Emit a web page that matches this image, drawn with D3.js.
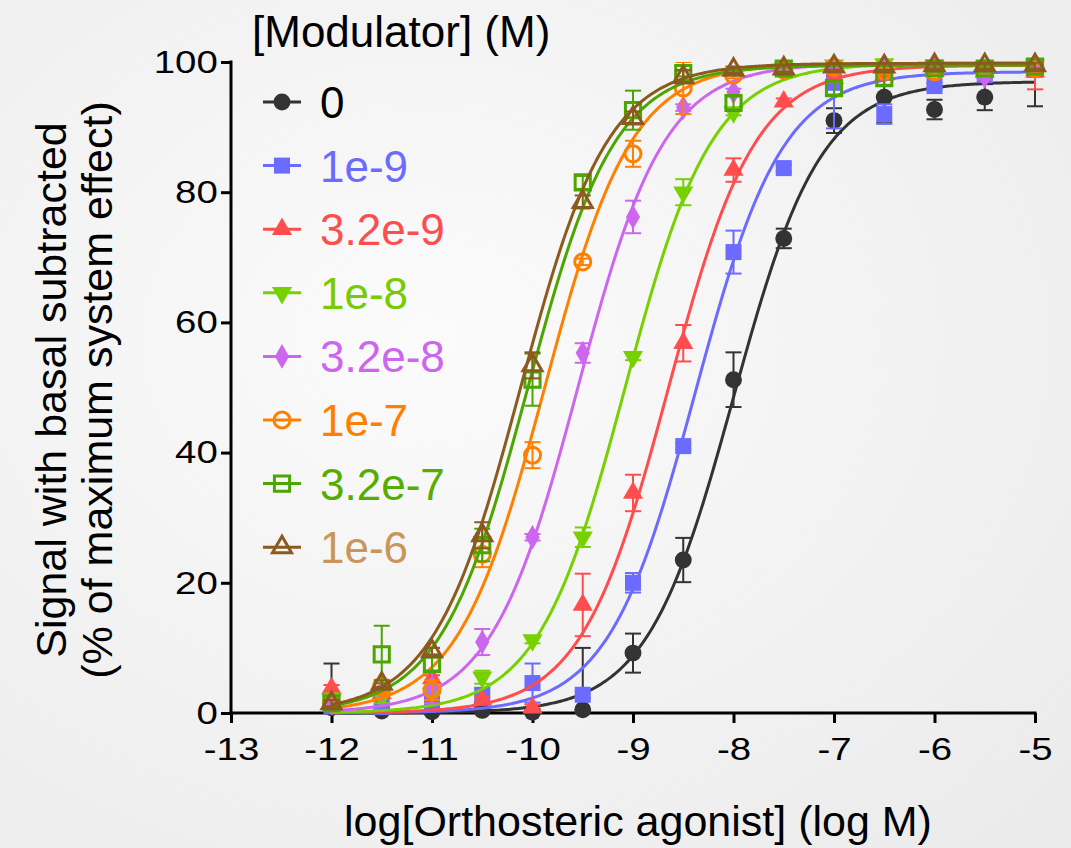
<!DOCTYPE html>
<html><head><meta charset="utf-8">
<script src="https://cdn.jsdelivr.net/npm/d3@7"></script>
<style>
html,body{margin:0;padding:0;overflow:hidden;}
svg{display:block;font-family:"Liberation Sans",Arial,sans-serif;}
</style></head>
<body>
<svg id="chart" width="1071" height="848"></svg>
<script>
// ---------- data ----------
const logAgonist = [-12,-11.5,-11,-10.5,-10,-9.5,-9,-8.5,-8,-7.5,-7,-6.5,-6,-5.5,-5];
const seriesNames = ["0","1e-9","3.2e-9","1e-8","3.2e-8","1e-7","3.2e-7","1e-6"];
const s0 = [0.8,0.3,0.2,0.4,0.1,0.5,9.2,23.5,51.2,72.9,91.0,94.6,92.7,94.6,99.2];
const s1 = [1.0,0.9,1.4,2.8,4.6,2.8,20.0,41.0,70.8,83.7,96.8,92.0,96.3,98.0,98.8];
const s2 = [3.8,3.0,5.3,2.0,0.8,16.6,33.8,56.8,83.4,93.9,97.5,98.0,98.6,98.5,98.5];
const s3 = [2.0,2.5,3.0,5.5,11.2,27.0,54.7,80.0,92.3,99.0,99.5,99.7,99.5,99.2,99.5];
const s4 = [1.5,3.5,4.0,10.9,27.0,55.3,76.2,93.0,95.4,99.0,99.3,99.5,99.5,97.8,99.5];
const s5 = [1.5,4.1,3.5,24.4,39.6,69.3,85.9,96.0,98.0,98.8,99.2,98.6,98.5,99.0,99.0];
const s6 = [1.5,9.0,7.5,25.8,51.2,81.5,92.6,98.3,93.7,99.0,96.0,97.5,99.0,99.0,99.3];
const s7 = [1.5,4.5,9.5,27.3,53.4,78.5,91.4,97.7,98.8,99.0,99.3,99.3,99.5,99.5,99.5];
const e0 = [6.8,0.5,0.5,0.5,0.5,9.5,3.0,3.4,4.2,1.5,1.9,4.0,1.5,2.0,6.0];
const e1 = [0.5,0.5,0.5,1.0,3.0,0.5,1.5,0.5,3.3,0.5,7.0,1.5,0.5,0.5,0.5];
const e2 = [0.5,0.5,0.5,0.5,0.5,4.8,2.8,2.8,1.8,0.5,0.5,0.5,0.5,0.5,2.7];
const e3 = [1.0,1.0,1.0,1.0,0.5,1.5,0.5,2.0,0.5,0.5,0.5,0.5,0.5,0.5,0.5];
const e4 = [0.5,0.5,2.5,2.0,0.5,1.5,2.5,0.5,0.5,0.5,0.5,0.5,0.5,0.5,0.5];
const e5 = [1.0,1.0,1.5,2.0,2.0,0.5,2.0,4.0,0.5,0.5,0.5,0.5,0.5,0.5,0.5];
const e6 = [0.5,4.4,1.0,2.5,4.0,1.0,3.0,0.5,1.0,0.5,1.0,1.0,0.5,0.5,0.5];
const e7 = [0.5,0.5,0.5,2.0,2.0,1.0,1.0,1.0,0.5,0.5,0.5,0.5,0.5,0.5,0.5];
// fitted curve parameters (Hill slope 1, bottom 0)
const fitLogEC50 = [-8.0,-8.38,-8.65,-9.08,-9.55,-9.88,-10.05,-10.12];
const fitTop = [97,98.5,99.5,99.8,99.8,99.8,99.5,99.8];
const xTicks = [-13,-12,-11,-10,-9,-8,-7,-6,-5];
const yTicks = [0,20,40,60,80,100];

const values = [s0,s1,s2,s3,s4,s5,s6,s7];
const errors = [e0,e1,e2,e3,e4,e5,e6,e7];

// ---------- styles ----------
const lineColors = ["#333333","#6b6bff","#ff4d4d","#77d100","#cc66ee","#ff8000","#4ca600","#8b5a1e"];
const textColors = ["#000000","#6b6bff","#ff4d4d","#77cc00","#cc66ee","#ff8000","#55ad00","#c8965a"];
const shapes = ["circle","square","triUp","triDown","diamond","circle","square","triUp"];
const filled = [true,true,true,true,true,false,false,false];

const svg = d3.select("#chart");
const W = 1071, H = 848;
const defs = svg.append("defs");
const rg = defs.append("radialGradient").attr("id","bg").attr("cx","40%").attr("cy","40%").attr("r","80%");
rg.append("stop").attr("offset","0%").attr("stop-color","#fbfbfb");
rg.append("stop").attr("offset","100%").attr("stop-color","#ebebeb");
svg.append("rect").attr("width",W).attr("height",H).attr("fill","url(#bg)");

const x = d3.scaleLinear().domain([-13,-5]).range([231,1035]);
const y = d3.scaleLinear().domain([0,100]).range([713,62]);

defs.append("clipPath").attr("id","plotclip").append("rect")
  .attr("x",x(-13)).attr("y",y(100)).attr("width",x(-5)-x(-13)+20).attr("height",y(0)-y(100));

function symPath(shape, filledFlag){
  const s = filledFlag ? 1 : 0.9;
  switch(shape){
    case "circle": return d3.symbol(d3.symbolCircle, 225*s)();
    case "square": return d3.symbol(d3.symbolSquare, 256*s)();
    case "triUp": return d3.symbol(d3.symbolTriangle, 175*s)();
    case "triDown": return d3.symbol(d3.symbolTriangle, 175*s)();
    case "diamond": return d3.symbol(d3.symbolDiamond, 175*s)();
  }
}
function symTransform(shape){ return shape==="triDown" ? " rotate(180)" : ""; }

// ---------- axes ----------
const yAxis = svg.append("g").attr("transform","translate(231,0)")
  .call(d3.axisLeft(y).tickValues(yTicks).tickSize(10).tickSizeOuter(0).tickPadding(3));
const xAxis = svg.append("g").attr("transform","translate(0,713)")
  .call(d3.axisBottom(x).tickValues(xTicks).tickSize(10).tickSizeOuter(0).tickPadding(14).tickFormat(d3.format("d")));
[yAxis,xAxis].forEach(a=>{
  a.select(".domain").attr("stroke","#000").attr("stroke-width",3);
  a.selectAll(".tick line").attr("stroke","#000").attr("stroke-width",3);
  a.selectAll(".tick text").attr("fill","#000").attr("font-size",32).attr("font-family","Liberation Sans, Arial, sans-serif");
});
xAxis.selectAll(".tick text").text(d=>d<0 ? "-"+Math.abs(d) : d)
  .attr("transform","scale(1.2,1)").attr("dy","0.71em");
yAxis.selectAll(".tick text").attr("x",-11).attr("transform","scale(1.2,1)");
xAxis.select(".domain").attr("d",`M${x(-13)-1.5},0H${x(-5)+1.5}`);
yAxis.select(".domain").attr("d",`M0,${y(0)+1.5}V${y(100)-1.5}`);

// ---------- curves, error bars, points ----------
const curveX = d3.range(-12, -5 + 0.0001, 0.02);
const line = d3.line().x(d=>x(d[0])).y(d=>y(d[1]));
values.forEach((vals, i)=>{
  const g = svg.append("g");
  const pts = curveX.map(lx=>[lx, fitTop[i]/(1+Math.pow(10, fitLogEC50[i]-lx))]);
  g.append("path").attr("d", line(pts)).attr("fill","none")
    .attr("stroke", lineColors[i]).attr("stroke-width", 3);
  const data = logAgonist.map((lx,k)=>({lx, v: vals[k], e: errors[i][k]}));
  const eg = g.append("g").attr("clip-path","url(#plotclip)");
  const eb = eg.selectAll(".eb").data(data).enter().append("g").attr("class","eb")
    .attr("stroke", lineColors[i]).attr("stroke-width", 2);
  eb.append("line").attr("x1",d=>x(d.lx)).attr("x2",d=>x(d.lx))
    .attr("y1",d=>y(d.v+d.e)).attr("y2",d=>y(d.v-d.e));
  eb.append("line").attr("x1",d=>x(d.lx)-8).attr("x2",d=>x(d.lx)+8)
    .attr("y1",d=>y(d.v+d.e)).attr("y2",d=>y(d.v+d.e));
  eb.append("line").attr("x1",d=>x(d.lx)-8).attr("x2",d=>x(d.lx)+8)
    .attr("y1",d=>y(d.v-d.e)).attr("y2",d=>y(d.v-d.e));
  g.selectAll(".pt").data(data).enter().append("path").attr("class","pt")
    .attr("d", symPath(shapes[i], filled[i]))
    .attr("transform", d=>`translate(${x(d.lx)},${y(d.v)})${symTransform(shapes[i])}`)
    .attr("fill", filled[i] ? lineColors[i] : "none")
    .attr("stroke", lineColors[i]).attr("stroke-width", filled[i] ? 0 : 3);
});

// ---------- legend ----------
svg.append("text").attr("x",252).attr("y",47).attr("font-size",44).attr("fill","#000")
  .text("[Modulator] (M)");
const leg = svg.append("g");
seriesNames.forEach((name,i)=>{
  const cy = 102 + i*63.6;
  const lg = leg.append("g");
  lg.append("line").attr("x1",263).attr("x2",301).attr("y1",cy).attr("y2",cy)
    .attr("stroke",lineColors[i]).attr("stroke-width",3);
  lg.append("path").attr("d", symPath(shapes[i], filled[i]))
    .attr("transform",`translate(282,${cy})${symTransform(shapes[i])}`)
    .attr("fill", filled[i] ? lineColors[i] : "none")
    .attr("stroke", lineColors[i]).attr("stroke-width", filled[i] ? 0 : 3);
  lg.append("text").attr("x",320).attr("y",cy+16).attr("font-size",44)
    .attr("fill",textColors[i]).text(name);
});

// ---------- axis titles ----------
svg.append("text").attr("x",638).attr("y",836).attr("text-anchor","middle")
  .attr("font-size",43).attr("fill","#000").text("log[Orthosteric agonist] (log M)");
const yt = svg.append("text").attr("transform","translate(0,390) rotate(-90)")
  .attr("text-anchor","middle").attr("font-size",43).attr("fill","#000");
yt.append("tspan").attr("x",0).attr("y",66).text("Signal with basal subtracted");
yt.append("tspan").attr("x",0).attr("y",112).text("(% of maximum system effect)");
</script>
</body></html>
